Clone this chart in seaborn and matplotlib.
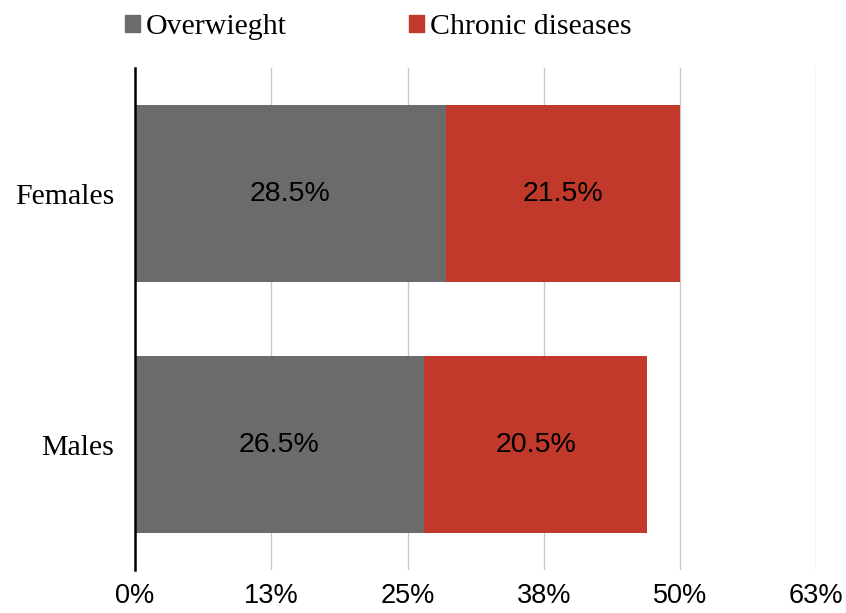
import pandas as pd
import matplotlib.pyplot as plt
import seaborn as sns

groups = ["Females", "Males"]
overweight = [28.5, 26.5]
chronic = [21.5, 20.5]
tick_values = [0, 12.5, 25, 37.5, 50, 62.5]
tick_labels = ["0%", "13%", "25%", "38%", "50%", "63%"]

GRAY = "#6b6b6b"
RED = "#c0392b"

sns.set_theme(style="white")
plt.rcParams['font.family'] = ['Liberation Sans', 'DejaVu Sans']

df = pd.DataFrame({"group": groups, "Overwieght": overweight, "Chronic diseases": chronic})
df["total"] = df["Overwieght"] + df["Chronic diseases"]

fig = plt.figure(figsize=(8.46, 6.13), dpi=100)
ax = fig.add_axes([0.1596, 0.070, 0.8054, 0.819])

# total first, overweight on top -> stacked look
sns.barplot(data=df, x="total", y="group", color=RED, width=0.708, ax=ax,
            saturation=1, linewidth=0, zorder=2)
sns.barplot(data=df, x="Overwieght", y="group", color=GRAY, width=0.708, ax=ax,
            saturation=1, linewidth=0, zorder=3)

for i, row in df.iterrows():
    ax.text(row["Overwieght"] / 2, i, f"{row['Overwieght']:.1f}%", ha="center", va="center",
            fontsize=20.5, color="black", zorder=4)
    ax.text(row["Overwieght"] + row["Chronic diseases"] / 2, i, f"{row['Chronic diseases']:.1f}%",
            ha="center", va="center", fontsize=20.5, color="black", zorder=4)

ax.set_xlim(0, 62.5)
ax.set_ylim(1.5, -0.5)
ax.set_xticks(tick_values)
ax.set_xticklabels(tick_labels, fontsize=19.5)
ax.set_xlabel("")
ax.set_ylabel("")
ax.tick_params(axis="x", length=0, pad=9, labelcolor="black")
ax.tick_params(axis="y", length=0, pad=15, labelcolor="black")
for lab in ax.get_yticklabels():
    lab.set_fontfamily("Liberation Serif")
    lab.set_fontsize(21.5)

ax.grid(axis="x", color="#c8c8c8", linewidth=1, zorder=0)
ax.set_axisbelow(True)
for side in ["top", "right", "bottom"]:
    ax.spines[side].set_visible(False)
ax.spines["left"].set_color("black")
ax.spines["left"].set_linewidth(1.8)
ax.spines["left"].set_zorder(5)

handles = [plt.Rectangle((0, 0), 1, 1, color=GRAY), plt.Rectangle((0, 0), 1, 1, color=RED)]
leg = fig.legend(handles, ["Overwieght", "Chronic diseases"], loc="upper left",
                 bbox_to_anchor=(0.116, 1.021), ncol=2, frameon=False, columnspacing=4.1,
                 handlelength=0.5, handleheight=0.5, handletextpad=0.2,
                 prop={"family": "Liberation Serif", "size": 21.5})
for t in leg.get_texts():
    t.set_color("black")

fig.savefig("out.png", dpi=100)
